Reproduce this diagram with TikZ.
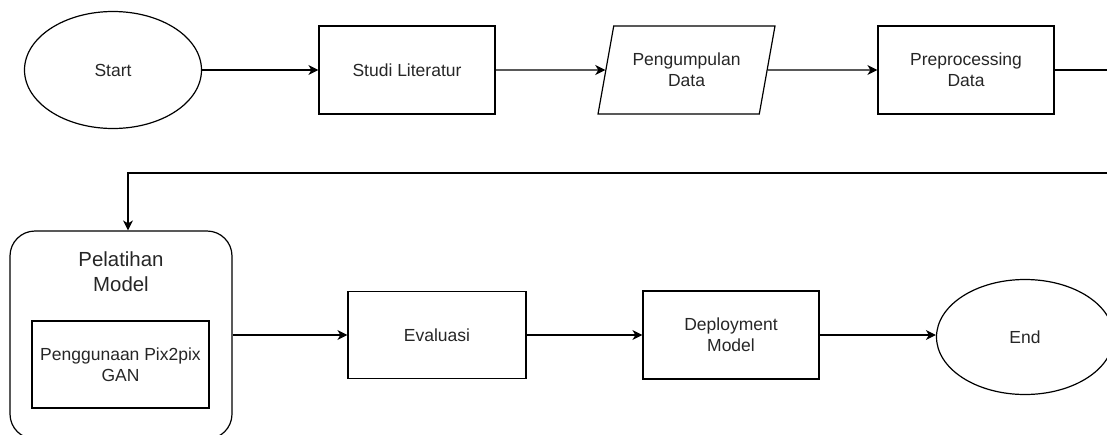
\documentclass[tikz,border=0pt]{standalone}
\usepackage{fontspec}
\setmainfont{Liberation Sans}
\usetikzlibrary{shapes.geometric,arrows.meta}

\begin{document}
\begin{tikzpicture}[x=1pt,y=-1pt,line width=1.2pt,
  every node/.style={font=\fontsize{17.5}{21}\selectfont,align=center,inner sep=0pt,text=black!85},
  kotak/.style={draw,rectangle,minimum width=176pt,minimum height=88pt},
  oval/.style={draw,ellipse,minimum width=177pt,minimum height=117pt},
  miring/.style={draw,trapezium,trapezium left angle=71,trapezium right angle=109,trapezium stretches=true,minimum width=177pt,minimum height=88pt},
  panah/.style={-{Stealth[length=10pt,width=10pt,inset=3pt]}}]
\clip (0,0) rectangle (1107,434);
\node[oval] (start) at (113,70) {Start};
\node[kotak] (studi) at (407,70) {Studi Literatur};
\node[miring] (kumpul) at (686.5,70) {Pengumpulan\\Data};
\node[kotak] (prep) at (966,70) {Preprocessing\\Data};
\node[draw,rounded corners=25pt,minimum width=222pt,minimum height=208pt] (latih) at (121,335) {};
\node[font=\fontsize{20.4}{25}\selectfont] (judul) at (121,272) {Pelatihan\\Model};
\node[kotak,minimum width=177pt,minimum height=87pt] (gan) at (120.5,364.5) {Penggunaan Pix2pix\\GAN};
\node[kotak,minimum width=178pt,minimum height=87pt] (eval) at (437,335) {Evaluasi};
\node[kotak] (deploy) at (731,335) {Deployment\\Model};
\node[oval,minimum height=115pt] (end) at (1025,337) {End};
\coordinate (kanan) at (1120,173);
\coordinate (atas) at (128,173);
\draw[panah] (start) -- (studi);
\draw[panah] (studi) -- (kumpul);
\draw[panah] (kumpul) -- (prep);
\draw[panah] (prep) -| (kanan) -- (atas) -- (atas |- latih.north);
\draw[panah] (latih) -- (eval);
\draw[panah] (eval) -- (deploy);
\draw[panah] (deploy.east) -- (end.west |- deploy.east);
\end{tikzpicture}
\end{document}
